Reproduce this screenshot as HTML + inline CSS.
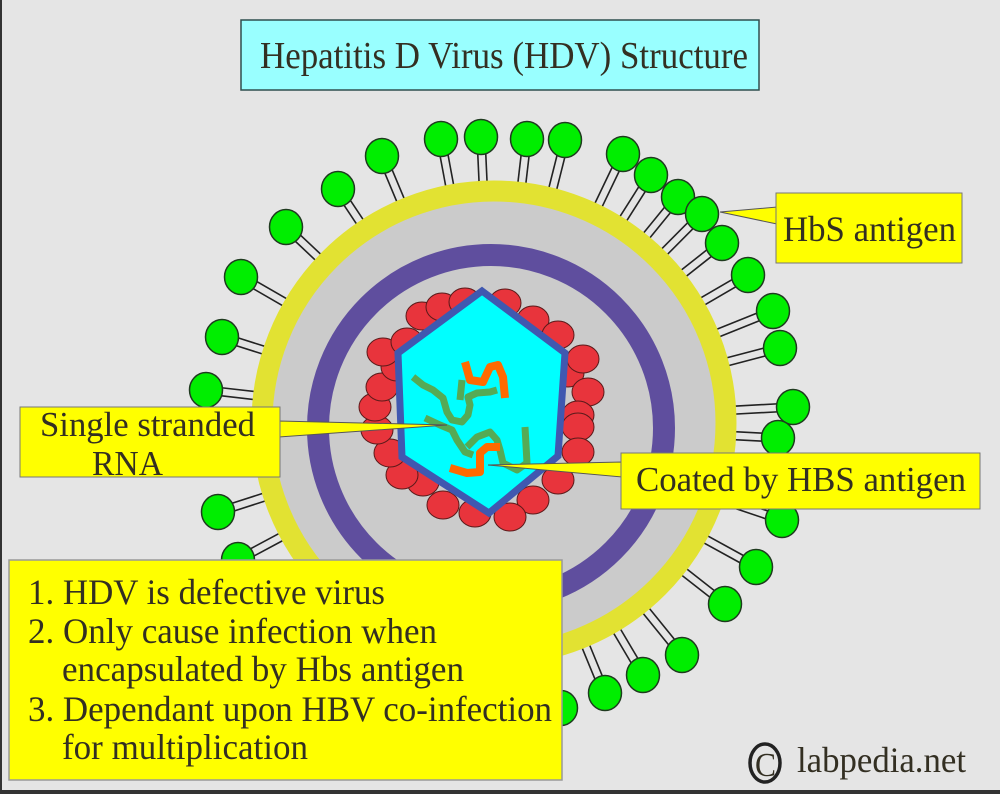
<!DOCTYPE html>
<html><head><meta charset="utf-8"><style>
html,body{margin:0;padding:0;background:#e5e5e5;}
svg{display:block;}
text{font-family:"Liberation Serif",serif;fill:#332f22;}
</style></head><body>
<svg width="1000" height="794" viewBox="0 0 1000 794" xmlns="http://www.w3.org/2000/svg">
<rect x="0" y="0" width="1000" height="794" fill="#e5e5e5"/>
<rect x="0" y="0" width="2" height="794" fill="#333"/>
<rect x="0" y="790" width="1000" height="4" fill="#333"/>
<g id="stems" stroke="#222" stroke-width="1.6"></g>
<circle cx="494" cy="423" r="232" fill="#cbcbcb" stroke="#e2e232" stroke-width="21"/>
<circle cx="491" cy="428" r="173" fill="none" stroke="#5f4e9e" stroke-width="22"/>
<g id="reds" fill="#e8343c" stroke="#5a1a1a" stroke-width="1"></g>
<polygon points="482,291 565,353 558,456 489,513 402,457 398,353" fill="#00ffff" stroke="#4058b0" stroke-width="7" stroke-linejoin="miter"/>
<g fill="none" stroke-linecap="butt" stroke-linejoin="round">
<path d="M413,377 L423,385 L433,390 L443,398 L447,412 L452,420 L462,422 L468,415 L470,405 L468,397 L477,393 L490,392 L497,390" stroke="#55aa55" stroke-width="7"/>
<path d="M462,380 L460,400" stroke="#55aa55" stroke-width="7"/>
<path d="M425,418 L440,425 L452,430 L457,440 L465,452 L473,455" stroke="#55aa55" stroke-width="7"/>
<path d="M467,447 L477,437 L490,432 L497,440 L500,450 L503,463 L517,470 L527,463 L525,427" stroke="#55aa55" stroke-width="7"/>
<path d="M465,362 L470,380 L483,382 L490,367 L498,365 L503,377 L505,398" stroke="#ff6a00" stroke-width="8"/>
<path d="M450,468 L467,473 L480,472 L480,453 L487,447 L500,447" stroke="#ff6a00" stroke-width="8"/>
</g>
<g id="greens" fill="#00ee00" stroke="#1f3a1f" stroke-width="1.5"></g>

<rect x="241" y="20" width="518" height="70" fill="#99ffff" stroke="#2f4f4f" stroke-width="1.5"/>
<text x="260" y="68" font-size="38" textLength="488" lengthAdjust="spacingAndGlyphs">Hepatitis D Virus (HDV) Structure</text>

<polygon points="720,212 777,207 777,224" fill="#ffff00" stroke="#555" stroke-width="1"/>
<rect x="776" y="193" width="186" height="70" fill="#ffff00" stroke="#777" stroke-width="1"/>
<text x="783" y="241" font-size="36" textLength="173" lengthAdjust="spacingAndGlyphs">HbS antigen</text>

<polygon points="447,425 279,421 279,437" fill="#ffff00" stroke="#555" stroke-width="1"/>
<rect x="20" y="407" width="260" height="70" fill="#ffff00" stroke="#777" stroke-width="1"/>
<text x="40" y="436" font-size="35" textLength="215" lengthAdjust="spacingAndGlyphs">Single stranded</text>
<text x="92" y="475" font-size="35" textLength="71" lengthAdjust="spacingAndGlyphs">RNA</text>

<polygon points="488,465 622,462 622,477" fill="#ffff00" stroke="#555" stroke-width="1"/>
<rect x="621" y="453" width="359" height="56" fill="#ffff00" stroke="#777" stroke-width="1"/>
<text x="636" y="491" font-size="35" textLength="330" lengthAdjust="spacingAndGlyphs">Coated by HBS antigen</text>

<rect x="9" y="560" width="553" height="220" fill="#ffff00" stroke="#999" stroke-width="1.5"/>
<text x="28" y="604" font-size="36" textLength="357" lengthAdjust="spacingAndGlyphs">1. HDV is defective virus</text>
<text x="28" y="643" font-size="36" textLength="409" lengthAdjust="spacingAndGlyphs">2. Only cause infection when</text>
<text x="62" y="681" font-size="36" textLength="402" lengthAdjust="spacingAndGlyphs">encapsulated by Hbs antigen</text>
<text x="28" y="721" font-size="36" textLength="524" lengthAdjust="spacingAndGlyphs">3. Dependant upon HBV co-infection</text>
<text x="62" y="759" font-size="36" textLength="246" lengthAdjust="spacingAndGlyphs">for multiplication</text>

<ellipse cx="765" cy="763" rx="15" ry="19" fill="none" stroke="#222" stroke-width="3.5"/>
<text x="755" y="776" font-size="34" textLength="21" lengthAdjust="spacingAndGlyphs">C</text>
<text x="797" y="772" font-size="36" textLength="169" lengthAdjust="spacingAndGlyphs">labpedia.net</text>

<script>
(function(){
var NS="http://www.w3.org/2000/svg";
var G=[[382,156],[338,189],[286,227],[241,277],[222,337],[206,390],[218,512],[238,560],
[441,139],[481,137],[527,139],[565,140],
[623,154],[651,175],[678,197],[702,214],[722,243],[748,275],[773,311],[780,348],[793,407],[778,438],[782,520],[756,567],[725,604],[682,655],[643,675],[605,693],[561,708]];
var cx=494,cy=423,stems=document.getElementById('stems'),greens=document.getElementById('greens');
G.forEach(function(p){
 var dx=cx-p[0],dy=cy-p[1],d=Math.sqrt(dx*dx+dy*dy),ux=dx/d,uy=dy/d,px=-uy,py=ux;
 var a=14,b=d-236;
 [-4,4].forEach(function(o){
  var l=document.createElementNS(NS,'line');
  l.setAttribute('x1',p[0]+ux*a+px*o);l.setAttribute('y1',p[1]+uy*a+py*o);
  l.setAttribute('x2',p[0]+ux*b+px*o);l.setAttribute('y2',p[1]+uy*b+py*o);
  stems.appendChild(l);
 });
 var e=document.createElementNS(NS,'ellipse');
 e.setAttribute('cx',p[0]);e.setAttribute('cy',p[1]);e.setAttribute('rx',16.5);e.setAttribute('ry',17.5);
 greens.appendChild(e);
});
var R=[[422,316],[442,307],[465,302],[505,303],[533,320],[558,335],[568,373],[583,359],[588,392],[578,415],[578,427],[578,452],[558,480],[533,500],[510,517],[475,513],[443,505],[423,482],[402,475],[390,453],[377,430],[375,407],[382,387],[397,367],[383,352],[407,342]];
var reds=document.getElementById('reds');
R.forEach(function(p){
 var e=document.createElementNS(NS,'ellipse');
 e.setAttribute('cx',p[0]);e.setAttribute('cy',p[1]);e.setAttribute('rx',16);e.setAttribute('ry',14);
 reds.appendChild(e);
});
})();
</script>
</svg>
</body></html>
